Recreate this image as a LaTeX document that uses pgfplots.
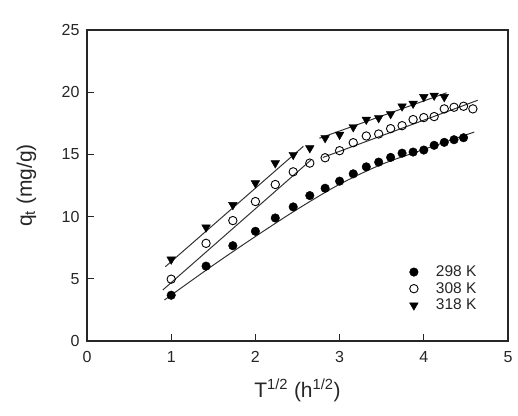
\documentclass[border=0pt]{standalone}
\usepackage{pgfplots}
\pgfplotsset{compat=1.18}
\usepackage{fontspec}
\setmainfont{Liberation Sans}
\begin{document}
\begin{tikzpicture}
\begin{axis}[
  name=ax,
  scale only axis,
  width=421pt, height=311pt,
  xmin=0, xmax=5, ymin=0, ymax=25,
  xtick={0,1,2,3,4,5}, ytick={0,5,10,15,20,25},
  xtick pos=left, ytick pos=left,
  tick align=inside,
  major tick length=7pt,
  axis line style={line width=1.1pt, black!85},
  every tick/.style={line width=1pt, black!85},
  tick label style={font=\fontsize{16}{19}\selectfont, text=black!85},
  /pgf/number format/assume math mode=true,
  xticklabel style={yshift=-7pt},
  yticklabel style={xshift=-4pt},
  xlabel={T\textsuperscript{1/2} (h\textsuperscript{1/2})},
  ylabel={q\textsubscript{t} (mg/g)},
  every axis x label/.style={at={(axis description cs:0.5,-0.158)}, anchor=center, font=\fontsize{21}{25}\selectfont, text=black!85},
  every axis y label/.style={at={(axis description cs:-0.144,0.5)}, rotate=90, anchor=center, font=\fontsize{21}{25}\selectfont, text=black!85},
  legend style={draw=none, fill=none, at={(0.757,0.255)}, anchor=north west,
    font=\fontsize{15.5}{17}\selectfont, row sep=0.3pt, text=black!85},
  legend cell align=left,
  legend image code/.code={\path[draw=none,fill=none] (-5pt,0pt) -- (20pt,0pt); \draw[#1] plot coordinates {(0pt,0pt)};},
  clip=false,
]
% data
\addplot[only marks, mark=*, mark size=4.3pt, black] coordinates {
(1.000,3.68) (1.414,6.02) (1.732,7.66) (2.000,8.82) (2.236,9.89)
(2.449,10.78) (2.646,11.69) (2.828,12.28) (3.000,12.85) (3.162,13.44)
(3.317,14.00) (3.464,14.38) (3.606,14.76) (3.742,15.10) (3.873,15.19)
(4.000,15.35) (4.123,15.73) (4.243,15.97) (4.359,16.18) (4.472,16.34)};
\addlegendentry{298 K}
\addplot[only marks, mark=o, mark size=4.2pt, line width=0.9pt, black] coordinates {
(1.000,4.97) (1.414,7.85) (1.732,9.68) (2.000,11.21) (2.236,12.58)
(2.449,13.60) (2.646,14.30) (2.828,14.73) (3.000,15.30) (3.162,15.94)
(3.317,16.48) (3.464,16.64) (3.606,17.07) (3.742,17.31) (3.873,17.80)
(4.000,17.96) (4.123,18.04) (4.243,18.66) (4.359,18.79) (4.472,18.87)
(4.583,18.66)};
\addlegendentry{308 K}
\addplot[only marks, mark=triangle*, mark options={rotate=180}, mark size=5pt, black] coordinates {
(1.000,6.56) (1.414,9.14) (1.732,10.94) (2.000,12.69) (2.236,14.30)
(2.449,14.97) (2.646,15.51) (2.828,16.32) (3.000,16.59) (3.162,17.20)
(3.317,17.80) (3.464,17.93) (3.606,18.25) (3.742,18.87) (3.873,19.09)
(4.000,19.62) (4.123,19.73) (4.243,19.62)};
\addlegendentry{318 K}
% fitted lines
\addplot[black!80, line width=1pt, smooth, forget plot] coordinates {
(0.92,3.3) (1.5,6.1) (2.0,8.4) (2.5,10.6) (3.0,12.6) (3.5,14.2) (4.0,15.4) (4.6,16.8)};
\addplot[black!80, line width=1pt, forget plot] coordinates {(0.90,4.10) (2.66,14.55)};
\addplot[black!80, line width=1pt, forget plot] coordinates {(2.80,14.75) (4.64,19.35)};
\addplot[black!80, line width=1pt, forget plot] coordinates {(0.93,5.97) (2.57,15.65)};
\addplot[black!80, line width=1pt, forget plot] coordinates {(2.76,16.30) (4.27,19.95)};
\end{axis}
\pgfresetboundingbox
\useasboundingbox ([xshift=-87pt,yshift=-74pt]ax.south west) rectangle ([xshift=10pt,yshift=30pt]ax.north east);
\end{tikzpicture}
\end{document}
